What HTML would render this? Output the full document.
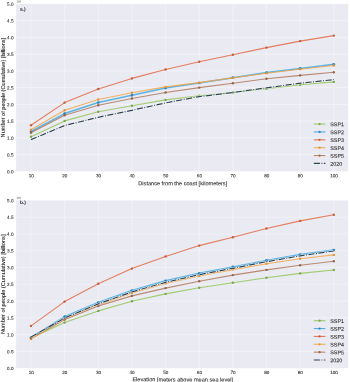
<!DOCTYPE html>
<html><head><meta charset="utf-8"><title>chart</title>
<style>html,body{margin:0;padding:0;background:#fff;}body{width:350px;height:382px;overflow:hidden;}svg{display:block;}text{font-family:"Liberation Sans",sans-serif;fill:#262626;text-rendering:geometricPrecision;}</style></head><body>
<svg width="350" height="382" viewBox="0 0 350 382">
<defs><filter id="soft" x="0" y="0" width="350" height="382" filterUnits="userSpaceOnUse" color-interpolation-filters="sRGB"><feGaussianBlur stdDeviation="0.3"/></filter><filter id="tf" x="0" y="0" width="350" height="382" filterUnits="userSpaceOnUse" color-interpolation-filters="sRGB"><feGaussianBlur stdDeviation="0.12"/></filter></defs>
<g filter="url(#soft)">
<rect x="0" y="0" width="350" height="382" fill="#ffffff"/>
<g>
<rect x="16.10" y="3.90" width="332.10" height="167.50" fill="#eaeaf2"/>
<line x1="16.10" y1="154.65" x2="348.20" y2="154.65" stroke="#ffffff" stroke-width="1.1" stroke-opacity="0.32"/>
<line x1="16.10" y1="137.90" x2="348.20" y2="137.90" stroke="#ffffff" stroke-width="1.1" stroke-opacity="0.32"/>
<line x1="16.10" y1="121.15" x2="348.20" y2="121.15" stroke="#ffffff" stroke-width="1.1" stroke-opacity="0.32"/>
<line x1="16.10" y1="104.40" x2="348.20" y2="104.40" stroke="#ffffff" stroke-width="1.1" stroke-opacity="0.32"/>
<line x1="16.10" y1="87.65" x2="348.20" y2="87.65" stroke="#ffffff" stroke-width="1.1" stroke-opacity="0.32"/>
<line x1="16.10" y1="70.90" x2="348.20" y2="70.90" stroke="#ffffff" stroke-width="1.1" stroke-opacity="0.32"/>
<line x1="16.10" y1="54.15" x2="348.20" y2="54.15" stroke="#ffffff" stroke-width="1.1" stroke-opacity="0.32"/>
<line x1="16.10" y1="37.40" x2="348.20" y2="37.40" stroke="#ffffff" stroke-width="1.1" stroke-opacity="0.32"/>
<line x1="16.10" y1="20.65" x2="348.20" y2="20.65" stroke="#ffffff" stroke-width="1.1" stroke-opacity="0.32"/>
<line x1="31.00" y1="3.90" x2="31.00" y2="171.40" stroke="#ffffff" stroke-width="1.1" stroke-opacity="0.32"/>
<line x1="64.64" y1="3.90" x2="64.64" y2="171.40" stroke="#ffffff" stroke-width="1.1" stroke-opacity="0.32"/>
<line x1="98.29" y1="3.90" x2="98.29" y2="171.40" stroke="#ffffff" stroke-width="1.1" stroke-opacity="0.32"/>
<line x1="131.93" y1="3.90" x2="131.93" y2="171.40" stroke="#ffffff" stroke-width="1.1" stroke-opacity="0.32"/>
<line x1="165.58" y1="3.90" x2="165.58" y2="171.40" stroke="#ffffff" stroke-width="1.1" stroke-opacity="0.32"/>
<line x1="199.22" y1="3.90" x2="199.22" y2="171.40" stroke="#ffffff" stroke-width="1.1" stroke-opacity="0.32"/>
<line x1="232.87" y1="3.90" x2="232.87" y2="171.40" stroke="#ffffff" stroke-width="1.1" stroke-opacity="0.32"/>
<line x1="266.51" y1="3.90" x2="266.51" y2="171.40" stroke="#ffffff" stroke-width="1.1" stroke-opacity="0.32"/>
<line x1="300.16" y1="3.90" x2="300.16" y2="171.40" stroke="#ffffff" stroke-width="1.1" stroke-opacity="0.32"/>
<line x1="333.80" y1="3.90" x2="333.80" y2="171.40" stroke="#ffffff" stroke-width="1.1" stroke-opacity="0.32"/>
<polyline points="31.00,136.80 64.64,120.90 98.29,111.80 131.93,105.80 165.58,99.90 199.22,95.80 232.87,92.50 266.51,88.70 300.16,84.70 333.80,81.90" fill="none" stroke="#8fc450" stroke-width="1.10" stroke-opacity="0.8" stroke-linejoin="round"/>
<circle cx="31.00" cy="136.80" r="1.20" fill="#7aa84e"/>
<circle cx="64.64" cy="120.90" r="1.20" fill="#7aa84e"/>
<circle cx="98.29" cy="111.80" r="1.20" fill="#7aa84e"/>
<circle cx="131.93" cy="105.80" r="1.20" fill="#7aa84e"/>
<circle cx="165.58" cy="99.90" r="1.20" fill="#7aa84e"/>
<circle cx="199.22" cy="95.80" r="1.20" fill="#7aa84e"/>
<circle cx="232.87" cy="92.50" r="1.20" fill="#7aa84e"/>
<circle cx="266.51" cy="88.70" r="1.20" fill="#7aa84e"/>
<circle cx="300.16" cy="84.70" r="1.20" fill="#7aa84e"/>
<circle cx="333.80" cy="81.90" r="1.20" fill="#7aa84e"/>
<polyline points="31.00,131.50 64.64,113.60 98.29,102.50 131.93,95.30 165.58,88.10 199.22,83.00 232.87,77.70 266.51,72.60 300.16,68.40 333.80,64.30" fill="none" stroke="#3aa6e0" stroke-width="1.55" stroke-opacity="0.8" stroke-linejoin="round"/>
<circle cx="31.00" cy="131.50" r="1.35" fill="#2f84bd"/>
<circle cx="64.64" cy="113.60" r="1.35" fill="#2f84bd"/>
<circle cx="98.29" cy="102.50" r="1.35" fill="#2f84bd"/>
<circle cx="131.93" cy="95.30" r="1.35" fill="#2f84bd"/>
<circle cx="165.58" cy="88.10" r="1.35" fill="#2f84bd"/>
<circle cx="199.22" cy="83.00" r="1.35" fill="#2f84bd"/>
<circle cx="232.87" cy="77.70" r="1.35" fill="#2f84bd"/>
<circle cx="266.51" cy="72.60" r="1.35" fill="#2f84bd"/>
<circle cx="300.16" cy="68.40" r="1.35" fill="#2f84bd"/>
<circle cx="333.80" cy="64.30" r="1.35" fill="#2f84bd"/>
<polyline points="31.00,125.30 64.64,102.60 98.29,89.00 131.93,78.40 165.58,69.50 199.22,61.70 232.87,54.70 266.51,47.60 300.16,41.10 333.80,35.60" fill="none" stroke="#e3623a" stroke-width="1.10" stroke-opacity="0.8" stroke-linejoin="round"/>
<circle cx="31.00" cy="125.30" r="1.20" fill="#c65d3a"/>
<circle cx="64.64" cy="102.60" r="1.20" fill="#c65d3a"/>
<circle cx="98.29" cy="89.00" r="1.20" fill="#c65d3a"/>
<circle cx="131.93" cy="78.40" r="1.20" fill="#c65d3a"/>
<circle cx="165.58" cy="69.50" r="1.20" fill="#c65d3a"/>
<circle cx="199.22" cy="61.70" r="1.20" fill="#c65d3a"/>
<circle cx="232.87" cy="54.70" r="1.20" fill="#c65d3a"/>
<circle cx="266.51" cy="47.60" r="1.20" fill="#c65d3a"/>
<circle cx="300.16" cy="41.10" r="1.20" fill="#c65d3a"/>
<circle cx="333.80" cy="35.60" r="1.20" fill="#c65d3a"/>
<polyline points="31.00,129.80 64.64,110.20 98.29,99.50 131.93,92.70 165.58,86.90 199.22,82.60 232.87,77.90 266.51,73.30 300.16,69.20 333.80,65.50" fill="none" stroke="#f3a23e" stroke-width="1.10" stroke-opacity="0.8" stroke-linejoin="round"/>
<circle cx="31.00" cy="129.80" r="1.20" fill="#e3953c"/>
<circle cx="64.64" cy="110.20" r="1.20" fill="#e3953c"/>
<circle cx="98.29" cy="99.50" r="1.20" fill="#e3953c"/>
<circle cx="131.93" cy="92.70" r="1.20" fill="#e3953c"/>
<circle cx="165.58" cy="86.90" r="1.20" fill="#e3953c"/>
<circle cx="199.22" cy="82.60" r="1.20" fill="#e3953c"/>
<circle cx="232.87" cy="77.90" r="1.20" fill="#e3953c"/>
<circle cx="266.51" cy="73.30" r="1.20" fill="#e3953c"/>
<circle cx="300.16" cy="69.20" r="1.20" fill="#e3953c"/>
<circle cx="333.80" cy="65.50" r="1.20" fill="#e3953c"/>
<polyline points="31.00,132.80 64.64,115.20 98.29,105.20 131.93,98.50 165.58,92.50 199.22,87.60 232.87,83.20 266.51,78.80 300.16,75.40 333.80,72.30" fill="none" stroke="#ad7351" stroke-width="1.10" stroke-opacity="0.8" stroke-linejoin="round"/>
<circle cx="31.00" cy="132.80" r="1.20" fill="#9a6547"/>
<circle cx="64.64" cy="115.20" r="1.20" fill="#9a6547"/>
<circle cx="98.29" cy="105.20" r="1.20" fill="#9a6547"/>
<circle cx="131.93" cy="98.50" r="1.20" fill="#9a6547"/>
<circle cx="165.58" cy="92.50" r="1.20" fill="#9a6547"/>
<circle cx="199.22" cy="87.60" r="1.20" fill="#9a6547"/>
<circle cx="232.87" cy="83.20" r="1.20" fill="#9a6547"/>
<circle cx="266.51" cy="78.80" r="1.20" fill="#9a6547"/>
<circle cx="300.16" cy="75.40" r="1.20" fill="#9a6547"/>
<circle cx="333.80" cy="72.30" r="1.20" fill="#9a6547"/>
<polyline points="31.00,139.60 64.64,125.50 98.29,117.30 131.93,110.30 165.58,102.90 199.22,96.60 232.87,92.50 266.51,87.80 300.16,83.20 333.80,79.60" fill="none"  stroke="#ffffff" stroke-width="2.2" stroke-opacity="0.85" stroke-dasharray="6.1 1.5 0.95 1.5" stroke-linejoin="round"/>
<polyline points="31.00,139.60 64.64,125.50 98.29,117.30 131.93,110.30 165.58,102.90 199.22,96.60 232.87,92.50 266.51,87.80 300.16,83.20 333.80,79.60" fill="none" stroke="#2f4554" stroke-width="1.2" stroke-dasharray="6.1 1.5 0.95 1.5" stroke-linejoin="round"/>
<line x1="313.8" y1="124.10" x2="325.4" y2="124.10" stroke="#8fc450" stroke-width="1.10" stroke-opacity="0.85"/>
<circle cx="319.6" cy="124.10" r="1.15" fill="#7aa84e"/>
<line x1="313.8" y1="131.96" x2="325.4" y2="131.96" stroke="#3aa6e0" stroke-width="1.10" stroke-opacity="0.85"/>
<circle cx="319.6" cy="131.96" r="1.15" fill="#2f84bd"/>
<line x1="313.8" y1="139.82" x2="325.4" y2="139.82" stroke="#e3623a" stroke-width="1.10" stroke-opacity="0.85"/>
<circle cx="319.6" cy="139.82" r="1.15" fill="#c65d3a"/>
<line x1="313.8" y1="147.68" x2="325.4" y2="147.68" stroke="#f3a23e" stroke-width="1.10" stroke-opacity="0.85"/>
<circle cx="319.6" cy="147.68" r="1.15" fill="#e3953c"/>
<line x1="313.8" y1="155.54" x2="325.4" y2="155.54" stroke="#ad7351" stroke-width="1.10" stroke-opacity="0.85"/>
<circle cx="319.6" cy="155.54" r="1.15" fill="#9a6547"/>
<line x1="313.8" y1="163.40" x2="325.4" y2="163.40" stroke="#2f4554" stroke-width="1.2" stroke-dasharray="6.1 1.5 0.95 1.5"/>
</g>
<g>
<rect x="16.10" y="200.40" width="332.10" height="167.80" fill="#eaeaf2"/>
<line x1="16.10" y1="351.42" x2="348.20" y2="351.42" stroke="#ffffff" stroke-width="1.1" stroke-opacity="0.32"/>
<line x1="16.10" y1="334.64" x2="348.20" y2="334.64" stroke="#ffffff" stroke-width="1.1" stroke-opacity="0.32"/>
<line x1="16.10" y1="317.86" x2="348.20" y2="317.86" stroke="#ffffff" stroke-width="1.1" stroke-opacity="0.32"/>
<line x1="16.10" y1="301.08" x2="348.20" y2="301.08" stroke="#ffffff" stroke-width="1.1" stroke-opacity="0.32"/>
<line x1="16.10" y1="284.30" x2="348.20" y2="284.30" stroke="#ffffff" stroke-width="1.1" stroke-opacity="0.32"/>
<line x1="16.10" y1="267.52" x2="348.20" y2="267.52" stroke="#ffffff" stroke-width="1.1" stroke-opacity="0.32"/>
<line x1="16.10" y1="250.74" x2="348.20" y2="250.74" stroke="#ffffff" stroke-width="1.1" stroke-opacity="0.32"/>
<line x1="16.10" y1="233.96" x2="348.20" y2="233.96" stroke="#ffffff" stroke-width="1.1" stroke-opacity="0.32"/>
<line x1="16.10" y1="217.18" x2="348.20" y2="217.18" stroke="#ffffff" stroke-width="1.1" stroke-opacity="0.32"/>
<line x1="31.00" y1="200.40" x2="31.00" y2="368.20" stroke="#ffffff" stroke-width="1.1" stroke-opacity="0.32"/>
<line x1="64.64" y1="200.40" x2="64.64" y2="368.20" stroke="#ffffff" stroke-width="1.1" stroke-opacity="0.32"/>
<line x1="98.29" y1="200.40" x2="98.29" y2="368.20" stroke="#ffffff" stroke-width="1.1" stroke-opacity="0.32"/>
<line x1="131.93" y1="200.40" x2="131.93" y2="368.20" stroke="#ffffff" stroke-width="1.1" stroke-opacity="0.32"/>
<line x1="165.58" y1="200.40" x2="165.58" y2="368.20" stroke="#ffffff" stroke-width="1.1" stroke-opacity="0.32"/>
<line x1="199.22" y1="200.40" x2="199.22" y2="368.20" stroke="#ffffff" stroke-width="1.1" stroke-opacity="0.32"/>
<line x1="232.87" y1="200.40" x2="232.87" y2="368.20" stroke="#ffffff" stroke-width="1.1" stroke-opacity="0.32"/>
<line x1="266.51" y1="200.40" x2="266.51" y2="368.20" stroke="#ffffff" stroke-width="1.1" stroke-opacity="0.32"/>
<line x1="300.16" y1="200.40" x2="300.16" y2="368.20" stroke="#ffffff" stroke-width="1.1" stroke-opacity="0.32"/>
<line x1="333.80" y1="200.40" x2="333.80" y2="368.20" stroke="#ffffff" stroke-width="1.1" stroke-opacity="0.32"/>
<polyline points="31.00,338.10 64.64,322.60 98.29,310.90 131.93,301.20 165.58,293.90 199.22,287.70 232.87,282.70 266.51,277.80 300.16,273.40 333.80,270.00" fill="none" stroke="#8fc450" stroke-width="1.10" stroke-opacity="0.8" stroke-linejoin="round"/>
<circle cx="31.00" cy="338.10" r="1.20" fill="#7aa84e"/>
<circle cx="64.64" cy="322.60" r="1.20" fill="#7aa84e"/>
<circle cx="98.29" cy="310.90" r="1.20" fill="#7aa84e"/>
<circle cx="131.93" cy="301.20" r="1.20" fill="#7aa84e"/>
<circle cx="165.58" cy="293.90" r="1.20" fill="#7aa84e"/>
<circle cx="199.22" cy="287.70" r="1.20" fill="#7aa84e"/>
<circle cx="232.87" cy="282.70" r="1.20" fill="#7aa84e"/>
<circle cx="266.51" cy="277.80" r="1.20" fill="#7aa84e"/>
<circle cx="300.16" cy="273.40" r="1.20" fill="#7aa84e"/>
<circle cx="333.80" cy="270.00" r="1.20" fill="#7aa84e"/>
<polyline points="31.00,337.70 64.64,316.70 98.29,302.50 131.93,290.50 165.58,280.80 199.22,273.30 232.87,266.90 266.51,260.40 300.16,254.50 333.80,250.10" fill="none" stroke="#3aa6e0" stroke-width="1.55" stroke-opacity="0.8" stroke-linejoin="round"/>
<circle cx="31.00" cy="337.70" r="1.35" fill="#2f84bd"/>
<circle cx="64.64" cy="316.70" r="1.35" fill="#2f84bd"/>
<circle cx="98.29" cy="302.50" r="1.35" fill="#2f84bd"/>
<circle cx="131.93" cy="290.50" r="1.35" fill="#2f84bd"/>
<circle cx="165.58" cy="280.80" r="1.35" fill="#2f84bd"/>
<circle cx="199.22" cy="273.30" r="1.35" fill="#2f84bd"/>
<circle cx="232.87" cy="266.90" r="1.35" fill="#2f84bd"/>
<circle cx="266.51" cy="260.40" r="1.35" fill="#2f84bd"/>
<circle cx="300.16" cy="254.50" r="1.35" fill="#2f84bd"/>
<circle cx="333.80" cy="250.10" r="1.35" fill="#2f84bd"/>
<polyline points="31.00,325.90 64.64,301.60 98.29,283.80 131.93,268.60 165.58,256.40 199.22,245.60 232.87,237.20 266.51,228.50 300.16,220.90 333.80,214.80" fill="none" stroke="#e3623a" stroke-width="1.10" stroke-opacity="0.8" stroke-linejoin="round"/>
<circle cx="31.00" cy="325.90" r="1.20" fill="#c65d3a"/>
<circle cx="64.64" cy="301.60" r="1.20" fill="#c65d3a"/>
<circle cx="98.29" cy="283.80" r="1.20" fill="#c65d3a"/>
<circle cx="131.93" cy="268.60" r="1.20" fill="#c65d3a"/>
<circle cx="165.58" cy="256.40" r="1.20" fill="#c65d3a"/>
<circle cx="199.22" cy="245.60" r="1.20" fill="#c65d3a"/>
<circle cx="232.87" cy="237.20" r="1.20" fill="#c65d3a"/>
<circle cx="266.51" cy="228.50" r="1.20" fill="#c65d3a"/>
<circle cx="300.16" cy="220.90" r="1.20" fill="#c65d3a"/>
<circle cx="333.80" cy="214.80" r="1.20" fill="#c65d3a"/>
<polyline points="31.00,339.00 64.64,319.50 98.29,305.00 131.93,293.00 165.58,283.40 199.22,276.00 232.87,269.60 266.51,263.80 300.16,258.70 333.80,254.90" fill="none" stroke="#f3a23e" stroke-width="1.10" stroke-opacity="0.8" stroke-linejoin="round"/>
<circle cx="31.00" cy="339.00" r="1.20" fill="#e3953c"/>
<circle cx="64.64" cy="319.50" r="1.20" fill="#e3953c"/>
<circle cx="98.29" cy="305.00" r="1.20" fill="#e3953c"/>
<circle cx="131.93" cy="293.00" r="1.20" fill="#e3953c"/>
<circle cx="165.58" cy="283.40" r="1.20" fill="#e3953c"/>
<circle cx="199.22" cy="276.00" r="1.20" fill="#e3953c"/>
<circle cx="232.87" cy="269.60" r="1.20" fill="#e3953c"/>
<circle cx="266.51" cy="263.80" r="1.20" fill="#e3953c"/>
<circle cx="300.16" cy="258.70" r="1.20" fill="#e3953c"/>
<circle cx="333.80" cy="254.90" r="1.20" fill="#e3953c"/>
<polyline points="31.00,338.10 64.64,319.40 98.29,306.00 131.93,295.90 165.58,288.10 199.22,281.20 232.87,275.10 266.51,269.90 300.16,265.20 333.80,261.20" fill="none" stroke="#ad7351" stroke-width="1.10" stroke-opacity="0.8" stroke-linejoin="round"/>
<circle cx="31.00" cy="338.10" r="1.20" fill="#9a6547"/>
<circle cx="64.64" cy="319.40" r="1.20" fill="#9a6547"/>
<circle cx="98.29" cy="306.00" r="1.20" fill="#9a6547"/>
<circle cx="131.93" cy="295.90" r="1.20" fill="#9a6547"/>
<circle cx="165.58" cy="288.10" r="1.20" fill="#9a6547"/>
<circle cx="199.22" cy="281.20" r="1.20" fill="#9a6547"/>
<circle cx="232.87" cy="275.10" r="1.20" fill="#9a6547"/>
<circle cx="266.51" cy="269.90" r="1.20" fill="#9a6547"/>
<circle cx="300.16" cy="265.20" r="1.20" fill="#9a6547"/>
<circle cx="333.80" cy="261.20" r="1.20" fill="#9a6547"/>
<polyline points="31.00,337.00 64.64,318.00 98.29,303.90 131.93,291.90 165.58,282.30 199.22,274.70 232.87,268.30 266.51,261.70 300.16,255.80 333.80,251.00" fill="none"  stroke="#ffffff" stroke-width="2.2" stroke-opacity="0.85" stroke-dasharray="6.1 1.5 0.95 1.5" stroke-linejoin="round"/>
<polyline points="31.00,337.00 64.64,318.00 98.29,303.90 131.93,291.90 165.58,282.30 199.22,274.70 232.87,268.30 266.51,261.70 300.16,255.80 333.80,251.00" fill="none" stroke="#2f4554" stroke-width="1.2" stroke-dasharray="6.1 1.5 0.95 1.5" stroke-linejoin="round"/>
<line x1="313.8" y1="320.70" x2="325.4" y2="320.70" stroke="#8fc450" stroke-width="1.10" stroke-opacity="0.85"/>
<circle cx="319.6" cy="320.70" r="1.15" fill="#7aa84e"/>
<line x1="313.8" y1="328.56" x2="325.4" y2="328.56" stroke="#3aa6e0" stroke-width="1.10" stroke-opacity="0.85"/>
<circle cx="319.6" cy="328.56" r="1.15" fill="#2f84bd"/>
<line x1="313.8" y1="336.42" x2="325.4" y2="336.42" stroke="#e3623a" stroke-width="1.10" stroke-opacity="0.85"/>
<circle cx="319.6" cy="336.42" r="1.15" fill="#c65d3a"/>
<line x1="313.8" y1="344.28" x2="325.4" y2="344.28" stroke="#f3a23e" stroke-width="1.10" stroke-opacity="0.85"/>
<circle cx="319.6" cy="344.28" r="1.15" fill="#e3953c"/>
<line x1="313.8" y1="352.14" x2="325.4" y2="352.14" stroke="#ad7351" stroke-width="1.10" stroke-opacity="0.85"/>
<circle cx="319.6" cy="352.14" r="1.15" fill="#9a6547"/>
<line x1="313.8" y1="360.00" x2="325.4" y2="360.00" stroke="#2f4554" stroke-width="1.2" stroke-dasharray="6.1 1.5 0.95 1.5"/>
</g>
</g>
<g filter="url(#tf)" stroke="#262626" stroke-width="0.07">
<text transform="translate(13.50,173.20) rotate(0.05)" font-size="4.60" text-anchor="end">0.0</text>
<text transform="translate(13.50,156.45) rotate(0.05)" font-size="4.60" text-anchor="end">0.5</text>
<text transform="translate(13.50,139.70) rotate(0.05)" font-size="4.60" text-anchor="end">1.0</text>
<text transform="translate(13.50,122.95) rotate(0.05)" font-size="4.60" text-anchor="end">1.5</text>
<text transform="translate(13.50,106.20) rotate(0.05)" font-size="4.60" text-anchor="end">2.0</text>
<text transform="translate(13.50,89.45) rotate(0.05)" font-size="4.60" text-anchor="end">2.5</text>
<text transform="translate(13.50,72.70) rotate(0.05)" font-size="4.60" text-anchor="end">3.0</text>
<text transform="translate(13.50,55.95) rotate(0.05)" font-size="4.60" text-anchor="end">3.5</text>
<text transform="translate(13.50,39.20) rotate(0.05)" font-size="4.60" text-anchor="end">4.0</text>
<text transform="translate(13.50,22.45) rotate(0.05)" font-size="4.60" text-anchor="end">4.5</text>
<text transform="translate(13.50,5.70) rotate(0.05)" font-size="4.60" text-anchor="end">5.0</text>
<text transform="translate(31.20,177.30) rotate(0.05)" font-size="4.60" text-anchor="middle">10</text>
<text transform="translate(64.84,177.30) rotate(0.05)" font-size="4.60" text-anchor="middle">20</text>
<text transform="translate(98.49,177.30) rotate(0.05)" font-size="4.60" text-anchor="middle">30</text>
<text transform="translate(132.13,177.30) rotate(0.05)" font-size="4.60" text-anchor="middle">40</text>
<text transform="translate(165.78,177.30) rotate(0.05)" font-size="4.60" text-anchor="middle">50</text>
<text transform="translate(199.42,177.30) rotate(0.05)" font-size="4.60" text-anchor="middle">60</text>
<text transform="translate(233.07,177.30) rotate(0.05)" font-size="4.60" text-anchor="middle">70</text>
<text transform="translate(266.71,177.30) rotate(0.05)" font-size="4.60" text-anchor="middle">80</text>
<text transform="translate(300.36,177.30) rotate(0.05)" font-size="4.60" text-anchor="middle">90</text>
<text transform="translate(334.00,177.30) rotate(0.05)" font-size="4.60" text-anchor="middle">100</text>
<text transform="translate(330.2,126.33) rotate(0.05)" font-size="5.40">SSP1</text>
<text transform="translate(330.2,134.19) rotate(0.05)" font-size="5.40">SSP2</text>
<text transform="translate(330.2,142.05) rotate(0.05)" font-size="5.40">SSP3</text>
<text transform="translate(330.2,149.91) rotate(0.05)" font-size="5.40">SSP4</text>
<text transform="translate(330.2,157.77) rotate(0.05)" font-size="5.40">SSP5</text>
<text transform="translate(330.2,165.63) rotate(0.05)" font-size="5.40">2020</text>
<text transform="translate(4.9,87.65) rotate(-89.95)" font-size="5.60" text-anchor="middle">Number of people (Cumulative) [billions]</text>
<text transform="translate(182.75,185.30) rotate(0.05)" font-size="5.60" text-anchor="middle">Distance from the coast [kilometers]</text>
<text transform="translate(19.9,10.70) rotate(0.05)" font-size="4.8" font-weight="bold" stroke="none">a.)</text>
<text transform="translate(16.5,2.30) rotate(0.05)" font-size="2.6" fill="#666666" stroke="none">1e9</text>
<text transform="translate(13.50,370.00) rotate(0.05)" font-size="4.60" text-anchor="end">0.0</text>
<text transform="translate(13.50,353.22) rotate(0.05)" font-size="4.60" text-anchor="end">0.5</text>
<text transform="translate(13.50,336.44) rotate(0.05)" font-size="4.60" text-anchor="end">1.0</text>
<text transform="translate(13.50,319.66) rotate(0.05)" font-size="4.60" text-anchor="end">1.5</text>
<text transform="translate(13.50,302.88) rotate(0.05)" font-size="4.60" text-anchor="end">2.0</text>
<text transform="translate(13.50,286.10) rotate(0.05)" font-size="4.60" text-anchor="end">2.5</text>
<text transform="translate(13.50,269.32) rotate(0.05)" font-size="4.60" text-anchor="end">3.0</text>
<text transform="translate(13.50,252.54) rotate(0.05)" font-size="4.60" text-anchor="end">3.5</text>
<text transform="translate(13.50,235.76) rotate(0.05)" font-size="4.60" text-anchor="end">4.0</text>
<text transform="translate(13.50,218.98) rotate(0.05)" font-size="4.60" text-anchor="end">4.5</text>
<text transform="translate(13.50,202.20) rotate(0.05)" font-size="4.60" text-anchor="end">5.0</text>
<text transform="translate(31.20,373.95) rotate(0.05)" font-size="4.60" text-anchor="middle">10</text>
<text transform="translate(64.84,373.95) rotate(0.05)" font-size="4.60" text-anchor="middle">20</text>
<text transform="translate(98.49,373.95) rotate(0.05)" font-size="4.60" text-anchor="middle">30</text>
<text transform="translate(132.13,373.95) rotate(0.05)" font-size="4.60" text-anchor="middle">40</text>
<text transform="translate(165.78,373.95) rotate(0.05)" font-size="4.60" text-anchor="middle">50</text>
<text transform="translate(199.42,373.95) rotate(0.05)" font-size="4.60" text-anchor="middle">60</text>
<text transform="translate(233.07,373.95) rotate(0.05)" font-size="4.60" text-anchor="middle">70</text>
<text transform="translate(266.71,373.95) rotate(0.05)" font-size="4.60" text-anchor="middle">80</text>
<text transform="translate(300.36,373.95) rotate(0.05)" font-size="4.60" text-anchor="middle">90</text>
<text transform="translate(334.00,373.95) rotate(0.05)" font-size="4.60" text-anchor="middle">100</text>
<text transform="translate(330.2,322.93) rotate(0.05)" font-size="5.40">SSP1</text>
<text transform="translate(330.2,330.79) rotate(0.05)" font-size="5.40">SSP2</text>
<text transform="translate(330.2,338.65) rotate(0.05)" font-size="5.40">SSP3</text>
<text transform="translate(330.2,346.51) rotate(0.05)" font-size="5.40">SSP4</text>
<text transform="translate(330.2,354.37) rotate(0.05)" font-size="5.40">SSP5</text>
<text transform="translate(330.2,362.23) rotate(0.05)" font-size="5.40">2020</text>
<text transform="translate(4.9,284.30) rotate(-89.95)" font-size="5.60" text-anchor="middle">Number of people (Cumulative) [billions]</text>
<text transform="translate(182.75,381.40) rotate(0.05)" font-size="5.60" text-anchor="middle">Elevation [meters above mean sea level]</text>
<text transform="translate(19.9,204.00) rotate(0.05)" font-size="4.8" font-weight="bold" stroke="none">b.)</text>
<text transform="translate(16.5,198.80) rotate(0.05)" font-size="2.6" fill="#666666" stroke="none">1e9</text>
</g></svg></body></html>
